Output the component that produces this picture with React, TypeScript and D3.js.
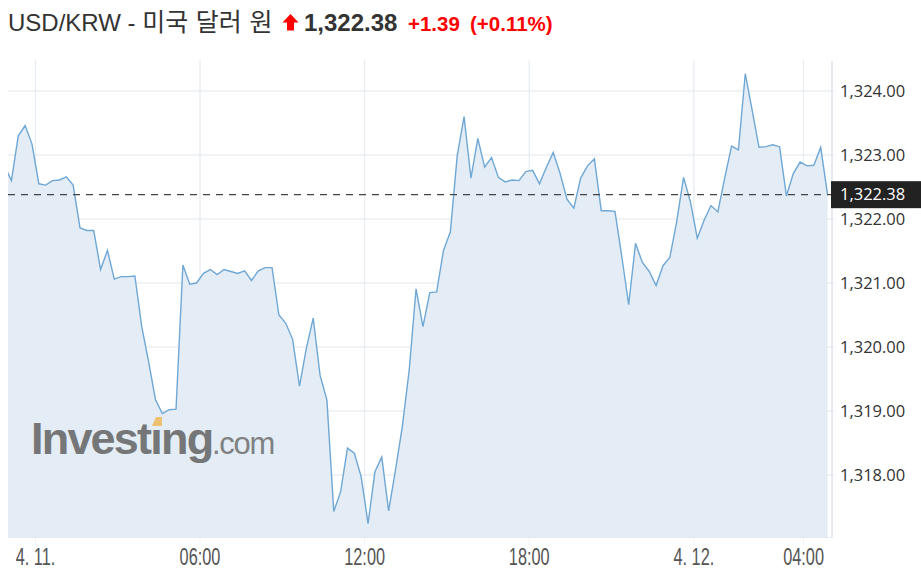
import React from "react";
import * as d3 from "d3";

// ---------- data ----------
const TITLE_LATIN = "USD/KRW - ";
const TITLE_KOREAN = "미국 달러 원";
const LAST_PRICE_TEXT = "1,322.38";
const CHANGE_TEXT = "+1.39";
const CHANGE_PCT_TEXT = "(+0.11%)";
const LAST_VALUE = 1322.38;

// 15-minute bars, first bar starts 2023-04-10 22:45
const FIRST_BAR = new Date(2023, 3, 10, 22, 45);
const BAR_MINUTES = 15;

const closes: number[] = [
  1322.83, 1322.6, 1323.3, 1323.46, 1323.17, 1322.55, 1322.53, 1322.6, 1322.61, 1322.66,
  1322.53, 1321.86, 1321.82, 1321.82, 1321.21, 1321.51, 1321.06, 1321.1, 1321.1, 1321.11,
  1320.32, 1319.77, 1319.18, 1318.96, 1319.02, 1319.03, 1321.28, 1320.98, 1321.0, 1321.15,
  1321.21, 1321.13, 1321.21, 1321.18, 1321.15, 1321.19, 1321.04, 1321.19, 1321.24, 1321.24,
  1320.5, 1320.37, 1320.12, 1319.39, 1319.98, 1320.45, 1319.56, 1319.17, 1317.43, 1317.74,
  1318.42, 1318.34, 1317.97, 1317.24, 1318.05, 1318.28, 1317.44, 1318.08, 1318.76, 1319.64,
  1320.91, 1320.32, 1320.85, 1320.86, 1321.51, 1321.8, 1322.99, 1323.6, 1322.64, 1323.26,
  1322.81, 1322.96, 1322.65, 1322.58, 1322.61, 1322.6, 1322.74, 1322.76, 1322.55, 1322.81,
  1323.04, 1322.71, 1322.31, 1322.17, 1322.64, 1322.83, 1322.94, 1322.13, 1322.13, 1322.12,
  1321.41, 1320.66, 1321.62, 1321.32, 1321.18, 1320.96, 1321.27, 1321.4, 1321.96, 1322.65,
  1322.27, 1321.7, 1321.98, 1322.21, 1322.11, 1322.64, 1323.14, 1323.08, 1324.27, 1323.7,
  1323.12, 1323.13, 1323.16, 1323.13, 1322.36, 1322.71, 1322.89, 1322.83, 1322.84, 1323.12,
  1322.38,
];

const yTickValues = [1318, 1319, 1320, 1321, 1322, 1323, 1324];

const xTickTimes = [
  new Date(2023, 3, 11, 0, 0),
  new Date(2023, 3, 11, 6, 0),
  new Date(2023, 3, 11, 12, 0),
  new Date(2023, 3, 11, 18, 0),
  new Date(2023, 3, 12, 0, 0),
  new Date(2023, 3, 12, 4, 0),
];
const xTickLabels = ["4. 11.", "06:00", "12:00", "18:00", "4. 12.", "04:00"];

const X_START = new Date(2023, 3, 10, 23, 0);
const X_END = new Date(2023, 3, 12, 5, 0);

// ---------- layout ----------
const W = 921;
const H = 578;
const PLOT_L = 8;
const PLOT_R = 831;
const PLOT_T = 60;
const PLOT_B = 537;
const AXIS_X = 832;

export default function App() {
  const points = closes.map((v, i) => ({
    t: new Date(FIRST_BAR.getTime() + (i * BAR_MINUTES + BAR_MINUTES / 2) * 60000),
    v,
  }));

  const x = d3.scaleTime().domain([X_START, X_END]).range([PLOT_L, PLOT_R]);
  const y = d3.scaleLinear().domain([1318, 1324]).range([475, 91]);

  const line = d3
    .line<{ t: Date; v: number }>()
    .x((d) => x(d.t))
    .y((d) => y(d.v));
  const area = d3
    .area<{ t: Date; v: number }>()
    .x((d) => x(d.t))
    .y0(PLOT_B)
    .y1((d) => y(d.v));

  const fmt = d3.format(",.2f");
  const yLast = y(LAST_VALUE);

  const axisFont = "'Open Sans', 'Noto Sans', sans-serif";
  const titleFont = "'Liberation Sans', Arial, 'Noto Sans CJK KR', sans-serif";

  return (
    <svg
      width={W}
      height={H}
      style={{ position: "absolute", left: 0, top: 0, background: "#fff" }}
    >
      <defs>
        <clipPath id="plotClip">
          <rect x={PLOT_L} y={PLOT_T} width={AXIS_X - PLOT_L} height={PLOT_B - PLOT_T} />
        </clipPath>
      </defs>

      {/* Title */}
      <text x={8} y={31} fontFamily={titleFont} fontSize={24} fill="#333">
        {TITLE_LATIN}
        <tspan fontFamily="'Noto Sans CJK KR', sans-serif" fontSize={25} wordSpacing={2}>
          {TITLE_KOREAN}
        </tspan>
      </text>
      <path d="M290.5,14 L298.5,22.5 L294,22.5 L294,30.5 L287,30.5 L287,22.5 L282.5,22.5 Z" fill="#ff0000" />
      <text x={304} y={31} fontFamily={titleFont} fontSize={24} fontWeight="bold" fill="#333">
        {LAST_PRICE_TEXT}
      </text>
      <text x={408} y={31} fontFamily={titleFont} fontSize={20.5} fontWeight="bold" fill="#ff0000">
        {CHANGE_TEXT}
      </text>
      <text x={470} y={31} fontFamily={titleFont} fontSize={20.5} fontWeight="bold" fill="#ff0000">
        {CHANGE_PCT_TEXT}
      </text>

      {/* vertical grid */}
      {xTickTimes.map((t, i) => (
        <line
          key={"vg" + i}
          x1={x(t)}
          x2={x(t)}
          y1={62}
          y2={545}
          stroke="#f1f3f5"
          strokeWidth={1}
        />
      ))}

      {/* horizontal grid */}
      {yTickValues.map((v) => (
        <line
          key={"hg" + v}
          x1={PLOT_L}
          x2={AXIS_X + 4}
          y1={y(v)}
          y2={y(v)}
          stroke="#eff1f3"
          strokeWidth={1}
        />
      ))}

      {/* area + line */}
      <g clipPath="url(#plotClip)">
        <path d={area(points) || ""} fill="#dde8f2" fillOpacity={0.8} />
        {yTickValues.map((v) => (
          <line
            key={"hg2" + v}
            x1={PLOT_L}
            x2={AXIS_X}
            y1={y(v)}
            y2={y(v)}
            stroke="#e8edf3"
            strokeWidth={1}
          />
        ))}
        {xTickTimes.map((t, i) => (
          <line
            key={"vg2" + i}
            x1={x(t)}
            x2={x(t)}
            y1={PLOT_T}
            y2={PLOT_B}
            stroke="#e6ecf2"
            strokeWidth={1}
          />
        ))}
        <path d={line(points) || ""} fill="none" stroke="#6fa7d5" strokeWidth={1.4} />
      </g>

      {/* watermark */}
      <g opacity={0.9}>
        <text
          x={31}
          y={454}
          fontFamily="'Liberation Sans', Arial, sans-serif"
          fontSize={45}
          fontWeight="bold"
          letterSpacing={-1.8}
          fill="#6a6a6a"
        >
          {"Investıng"}
        </text>
        <path d="M152,426 L156,417 L162,417 L162,426 Z" fill="#f0bd62" />
        <text
          x={212}
          y={454}
          fontFamily="'Liberation Sans', Arial, sans-serif"
          fontSize={31}
          letterSpacing={-1.3}
          fill="#757575"
        >
          .com
        </text>
      </g>

      {/* bottom line and right axis line */}
      <line x1={PLOT_L} x2={AXIS_X} y1={PLOT_B + 0.5} y2={PLOT_B + 0.5} stroke="#e3e8ee" />
      <line x1={AXIS_X} x2={AXIS_X} y1={61} y2={PLOT_B + 0.5} stroke="#dfe5ec" strokeWidth={1.5} />

      {/* last price dashed line */}
      <line
        x1={PLOT_L}
        x2={AXIS_X}
        y1={yLast}
        y2={yLast}
        stroke="#444"
        strokeWidth={1.3}
        strokeDasharray="7,6"
      />

      {/* y labels */}
      {yTickValues.map((v) => (
        <text
          key={"yl" + v}
          x={840}
          y={y(v)}
          dy="0.35em"
          fontFamily={axisFont}
          fontSize={16.5}
          fill="#333"
        >
          {fmt(v)}
        </text>
      ))}

      {/* last price label */}
      <rect x={831} y={yLast - 13.5} width={W - 831} height={27} fill="#222" />
      <text
        x={840}
        y={yLast}
        dy="0.35em"
        fontFamily={axisFont}
        fontSize={16.5}
        fill="#fff"
      >
        {fmt(LAST_VALUE)}
      </text>

      {/* x labels */}
      {xTickTimes.map((t, i) => (
        <text
          key={"xl" + i}
          transform={`translate(${x(t)},565) scale(0.68,1)`}
          textAnchor="middle"
          fontFamily="'Liberation Sans', Arial, sans-serif"
          fontSize={24}
          fill="#555"
        >
          {xTickLabels[i]}
        </text>
      ))}
    </svg>
  );
}
